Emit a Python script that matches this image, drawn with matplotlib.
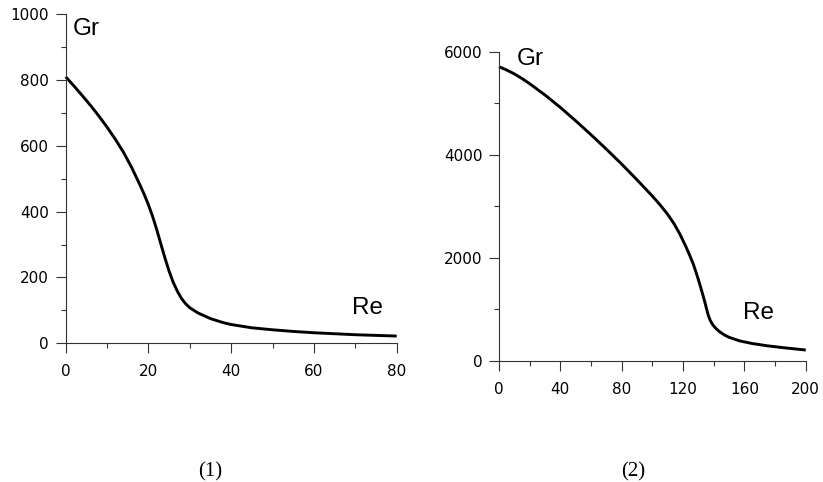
import matplotlib.pyplot as plt
from matplotlib.ticker import MultipleLocator

# curve (1)
re1 = [0, 2, 4, 6, 8, 10, 12, 14, 16, 18, 19, 20, 21, 22, 23, 24, 25, 26, 27, 28, 29,
       30, 32, 35, 38, 40, 45, 50, 55, 60, 70, 80]
gr1 = [810, 782, 753, 723, 691, 657, 620, 580, 533, 480, 452, 421, 386, 346, 302, 259,
       219, 185, 158, 136, 120, 108, 92, 75, 63, 57, 47, 41, 36, 32, 26, 22]

# curve (2)
re2 = [0, 5, 10, 15, 20, 30, 40, 50, 60, 70, 80, 90, 100, 105, 110, 114, 118, 122, 124.5,
       126.7, 128.5, 130, 131.5, 133, 134.3, 135.4, 136.5, 137.5, 138.7, 140, 142, 144,
       147, 150, 157, 165, 175, 185, 200]
gr2 = [5710, 5645, 5570, 5480, 5380, 5160, 4920, 4660, 4390, 4110, 3820, 3515, 3200,
       3030, 2845, 2670, 2460, 2210, 2040, 1880, 1720, 1580, 1430, 1275, 1135, 1005,
       885, 805, 735, 680, 615, 565, 505, 460, 390, 340, 295, 260, 213]

tick_font = "DejaVu Sans"
label_font = "Liberation Sans"

fig = plt.figure(figsize=(8.23, 4.82), dpi=100)


def style_axes(ax, xmax, ymax, xmaj, xmin, ymaj, ymin):
    ax.set_xlim(0, xmax)
    ax.set_ylim(0, ymax)
    for s in ["top", "right"]:
        ax.spines[s].set_visible(False)
    for s in ["left", "bottom"]:
        ax.spines[s].set_color("#333333")
        ax.spines[s].set_linewidth(0.8)
    ax.xaxis.set_major_locator(MultipleLocator(xmaj))
    ax.xaxis.set_minor_locator(MultipleLocator(xmin))
    ax.yaxis.set_major_locator(MultipleLocator(ymaj))
    ax.yaxis.set_minor_locator(MultipleLocator(ymin))
    ax.tick_params(which="major", direction="out", length=7, width=0.8,
                   color="#333333", labelsize=11)
    ax.tick_params(axis="x", which="major", pad=8)
    ax.tick_params(axis="y", which="major", pad=5)
    ax.tick_params(which="minor", direction="out", length=3.5, width=0.8,
                   color="#333333")
    for lab in ax.get_xticklabels() + ax.get_yticklabels():
        lab.set_fontfamily(tick_font)
    ax.patch.set_alpha(0)


ax1 = fig.add_axes([0.0798, 0.2878, 0.4022, 0.6826])
ax1.plot(re1, gr1, color="black", lw=2.1, solid_capstyle="butt", clip_on=False)
style_axes(ax1, 80, 1000, 20, 10, 200, 100)
ax1.text(1.7, 955, "Gr", fontsize=17.5, family=label_font, ha="left", va="center")
ax1.text(69.1, 106, "Re", fontsize=17.5, family=label_font, ha="left", va="center")

ax2 = fig.add_axes([0.6063, 0.251, 0.3727, 0.6417])
ax2.plot(re2, gr2, color="black", lw=2.1, solid_capstyle="butt", clip_on=False)
style_axes(ax2, 200, 6000, 40, 20, 2000, 1000)
ax2.text(11.9, 5850, "Gr", fontsize=17.5, family=label_font, ha="left", va="center")
ax2.text(159.3, 925, "Re", fontsize=17.5, family=label_font, ha="left", va="center")

fig.text(210 / 823, 0.022, "(1)", fontsize=15, family="Liberation Serif",
         ha="center", va="center")
fig.text(633 / 823, 0.022, "(2)", fontsize=15, family="Liberation Serif",
         ha="center", va="center")

plt.savefig("out.png", dpi=100)
